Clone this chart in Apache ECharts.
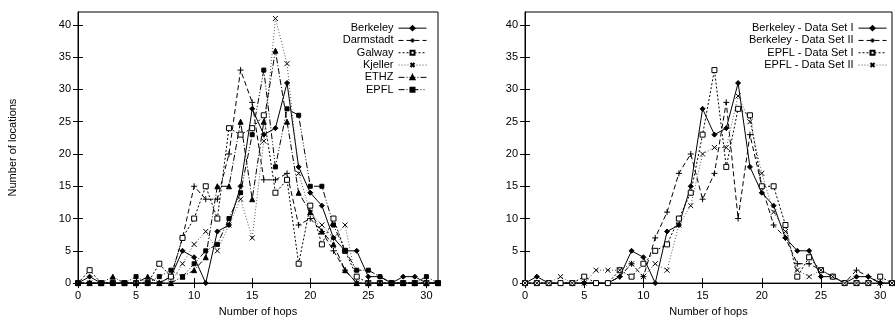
<!DOCTYPE html>
<html>
<head>
<meta charset="utf-8">
<script src="https://cdn.jsdelivr.net/npm/echarts@6/dist/echarts.min.js"></script>
<style>html,body{margin:0;padding:0;background:#fff}#c{width:895px;height:322px}</style>
</head>
<body>
<div id="c"></div>
<script>
// ---- data ----
const hops = [0,1,2,3,4,5,6,7,8,9,10,11,12,13,14,15,16,17,18,19,20,21,22,23,24,25,26,27,28,29,30,31];
const yTicks = [0,5,10,15,20,25,30,35,40];
const xTicks = [0,5,10,15,20,25,30];

// left chart
const berkeley  = [0,1,0,0,0,0,0,0,1,5,4,0,8,9,15,27,23,24,31,18,14,12,7,5,5,1,1,0,1,1,0,0];
const darmstadt = [0,0,0,0,0,0,0,0,1,7,15,13,13,20,33,28,16,16,17,9,10,8,5,2,0,0,0,0,0,0,0,0];
const galway    = [0,2,0,0,0,0,0,3,1,7,10,15,10,24,23,24,26,14,16,3,12,6,10,5,1,0,0,0,0,0,0,0];
const kjeller   = [0,0,0,0,0,0,0,0,0,3,6,8,5,9,13,7,22,41,34,17,11,9,7,9,0,0,0,0,0,0,0,0];
const ethz      = [0,0,0,1,0,0,1,0,0,1,2,4,15,15,25,13,25,36,25,14,11,8,6,2,0,0,0,0,0,0,0,0];
const epfl      = [0,0,0,0,0,1,0,1,2,1,3,5,6,10,14,23,33,18,27,26,15,15,9,5,2,2,1,0,0,0,1,0];

// right chart
const berkeleyI  = [0,1,0,0,0,0,0,0,1,5,4,0,8,9,15,27,23,24,31,18,14,12,7,5,5,1,1,0,1,1,0,0];
const berkeleyII = [0,0,0,0,0,0,0,0,1,3,1,7,11,17,20,13,17,28,10,23,15,9,7,3,3,2,1,0,2,1,0,0];
const epflI      = [0,0,0,0,0,1,0,0,2,1,3,5,6,10,14,23,33,18,27,26,15,15,9,1,4,2,1,0,0,0,1,0];
const epflII     = [0,0,0,1,0,0,2,2,2,3,1,3,2,9,12,20,21,21,29,25,17,11,8,2,1,2,1,0,0,0,0,0];

const leftNames  = ['Berkeley','Darmstadt','Galway','Kjeller','ETHZ','EPFL'];
const rightNames = ['Berkeley - Data Set I','Berkeley - Data Set II','EPFL - Data Set I','EPFL - Data Set II'];

// ---- styles ----
const FONT = 'Liberation Sans';
const SYM = {
  diamond: {symbol:'diamond', size:5, fill:'#000'},
  plus:    {symbol:'path://M5,0L5,10M0,5L10,5', size:6, fill:'#000'},
  box:     {symbol:'rect', size:5, fill:'#fff'},
  cross:   {symbol:'path://M0,0L10,10M0,10L10,0', size:5, fill:'#000'},
  tri:     {symbol:'triangle', size:5, fill:'#000'},
  fbox:    {symbol:'rect', size:4, fill:'#000'}
};

function mk(name, vals, sym, dash, color, xi, yi) {
  return {
    name, type:'line', xAxisIndex:xi, yAxisIndex:yi,
    data: hops.map((h,i)=>[h, vals[i]]),
    symbol: sym.symbol, symbolSize: sym.size, showSymbol:true,
    lineStyle:{color:color, width:1, type:dash},
    itemStyle:{color:sym.fill, borderColor:'#000', borderWidth:1},
    emphasis:{disabled:true}, clip:false, z: 3
  };
}

const labelFmt = (arr)=> (v)=> arr.indexOf(v) >= 0 ? String(v) : '';

function axesFor(gi, withYName) {
  const base = {
    min:0, type:'value', gridIndex:gi, splitLine:{show:false},
    axisLine:{show:true, lineStyle:{color:'#000', width:1}}
  };
  const tick = (vals)=>({show:true, inside:true, length:5, lineStyle:{color:'#000'}, customValues: vals});
  const xb = Object.assign({}, base, {max:31, interval:5, position:'bottom',
    axisLabel:{color:'#000', fontSize:11, fontFamily:FONT, margin:7, formatter: labelFmt(xTicks)},
    axisTick: tick(xTicks),
    name:'Number of hops', nameLocation:'middle', nameGap:22,
    nameTextStyle:{color:'#000', fontSize:11, fontFamily:FONT}});
  const xt = Object.assign({}, base, {max:31, interval:5, position:'top', axisLabel:{show:false},
    axisTick: tick(xTicks)});
  const yl = Object.assign({}, base, {max:42, interval:5, position:'left',
    axisLabel:{color:'#000', fontSize:11, fontFamily:FONT, margin:7, formatter: labelFmt(yTicks)},
    axisTick: tick(yTicks)});
  if (withYName) {
    yl.name = 'Number of locations'; yl.nameLocation='middle'; yl.nameGap = 60;
    yl.nameTextStyle = {color:'#000', fontSize:11, fontFamily:FONT};
  }
  const yr = Object.assign({}, base, {max:42, interval:5, position:'right', axisLabel:{show:false},
    axisTick: tick(yTicks)});
  return {x:[xb, xt], y:[yl, yr]};
}

const aL = axesFor(0, true), aR = axesFor(1, false);

const legendBase = {orient:'vertical', top:22, align:'right', itemWidth:28, itemHeight:5, itemGap:0,
  padding:0, selectedMode:false, lineStyle:{width:1}, 
  textStyle:{color:'#000', fontSize:11, fontFamily:FONT, lineHeight:12.3}};

const option = {
  animation:false,
  grid:[
    {left:78, top:12, width:360, height:280, show:true, borderColor:'#000', borderWidth:1, backgroundColor:'transparent'},
    {left:525, top:12, width:372, height:280, show:true, borderColor:'#000', borderWidth:1, backgroundColor:'transparent'}
  ],
  xAxis:[aL.x[0], aL.x[1], aR.x[0], aR.x[1]],
  yAxis:[aL.y[0], aL.y[1], aR.y[0], aR.y[1]],
  legend:[
    Object.assign({}, legendBase, {data:leftNames, right:468}),
    Object.assign({}, legendBase, {data:rightNames, right:8})
  ],
  series:[
    mk('Berkeley',  berkeley,  SYM.diamond, 'solid', '#000', 0, 0),
    mk('Darmstadt', darmstadt, SYM.plus,    [5,3],   '#000', 0, 0),
    mk('Galway',    galway,    SYM.box,     [2,2],   '#000', 0, 0),
    mk('Kjeller',   kjeller,   SYM.cross,   [1,2],   '#555', 0, 0),
    mk('ETHZ',      ethz,      SYM.tri,     [6,2,1,2], '#000', 0, 0),
    mk('EPFL',      epfl,      SYM.fbox,    [6,2,1,2,1,2], '#000', 0, 0),
    mk('Berkeley - Data Set I',  berkeleyI,  SYM.diamond, 'solid', '#000', 2, 2),
    mk('Berkeley - Data Set II', berkeleyII, SYM.plus,    [5,3],   '#000', 2, 2),
    mk('EPFL - Data Set I',      epflI,      SYM.box,     [2,2],   '#000', 2, 2),
    mk('EPFL - Data Set II',     epflII,     SYM.cross,   [1,2],   '#555', 2, 2)
  ]
};
const chart = echarts.init(document.getElementById('c'), null, {renderer:'canvas'});
chart.setOption(option);
</script>
</body>
</html>
